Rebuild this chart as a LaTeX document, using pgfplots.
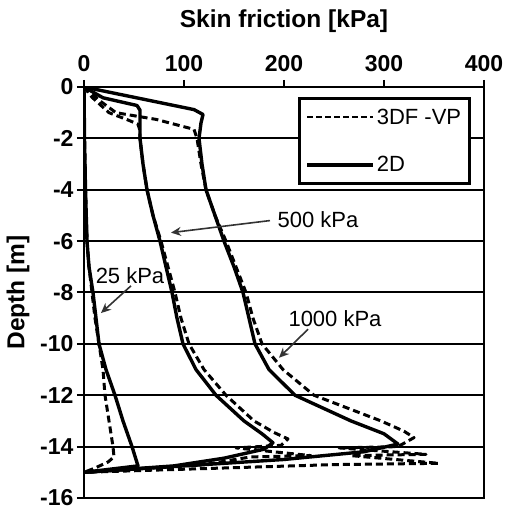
\documentclass[border=0pt]{standalone}
\usepackage{fontspec}
\setmainfont{Liberation Sans}
\usepackage{pgfplots}
\pgfplotsset{compat=1.18}
\usetikzlibrary{arrows.meta}

% Skin friction profiles along the pile (3DF-VP dashed, 2D solid)
\tikzset{
  vpdash/.style={black, line width=3pt, dash pattern=on 7pt off 4pt, line join=round},
  twod/.style={black, line width=3.4pt, line join=round},
  callout/.style={draw=black!80, line width=1.6pt, -{Stealth[length=10pt,width=9pt]}},
}

\begin{document}
\begin{tikzpicture}
\useasboundingbox (-84pt,-14pt) rectangle (421pt,498pt);
\begin{axis}[
  scale only axis, width=400pt, height=411pt,
  xmin=0, xmax=400, ymin=-16, ymax=0,
  xtick={0,100,200,300,400}, ytick={-16,-14,...,0},
  xtick pos=right, xticklabel pos=right, ytick pos=left,
  tick align=outside, major tick length=7pt,
  every tick/.style={black, line width=2pt},
  axis line style={line width=2.8pt},
  ymajorgrids, grid style={black, line width=2pt},
  /pgf/number format/assume math mode=true,
  ticklabel style={font=\fontsize{23}{25}\selectfont\bfseries},
  xticklabel style={yshift=5pt},
  xlabel={Skin friction [kPa]}, ylabel={Depth [m]},
  label style={font=\fontsize{24.5}{27}\selectfont\bfseries},
  xlabel style={yshift=16pt},
  ylabel style={yshift=4pt},
  legend style={at={(0.535,0.975)}, anchor=north west, draw=black, fill=white,
    line width=2.8pt, inner xsep=6pt, inner ysep=8pt, row sep=27pt,
    font=\fontsize{22}{24}\selectfont},
  legend cell align=left,
  legend image code/.code={\draw[#1] (0pt,0pt) -- (66pt,0pt);},
]
\addlegendimage{vpdash, line width=2.2pt, dash pattern=on 6pt off 3pt}
\addlegendentry{3DF -VP}
\addlegendimage{twod}
\addlegendentry{2D}

% 25 kPa
\addplot[vpdash] coordinates {
 (0,0) (0.5,-2) (1.5,-4) (3,-6) (5,-7) (8,-8) (11,-9) (15,-10) (19,-11)
 (21,-12) (25,-13) (29,-14) (30,-14.4) (24,-14.6) (10,-14.85) (0,-15)};
\addplot[twod] coordinates {
 (0,0) (0.5,-2) (1.5,-4) (3,-6) (5,-7) (9,-8) (12,-9) (15,-10) (22,-11)
 (31,-12) (39,-13) (48,-14) (54,-14.75) (0,-15)};

% 500 kPa
\addplot[vpdash] coordinates {
 (0,0) (8,-0.4) (25,-1.0) (45,-1.3) (54,-1.45) (56,-1.7) (56,-2) (59,-3)
 (63,-4) (69,-5) (77,-6) (84,-7) (91,-8) (97,-9) (105,-10) (120,-11)
 (142,-12) (170,-13) (190,-13.45) (204,-13.7) (197,-13.95) (152,-14.05)
 (227,-14.35) (167,-14.4) (120,-14.7) (0,-15)};
\addplot[twod] coordinates {
 (0,0) (19,-0.42) (45,-0.65) (53,-0.72) (56,-0.9) (56,-1.3) (56,-2) (59,-3)
 (63,-4) (69,-5) (76,-6) (82,-7) (88,-8) (93,-9) (99,-10) (112,-11)
 (132,-12) (160,-13) (178,-13.5) (189,-13.85) (180,-14.1) (140,-14.45)
 (90,-14.75) (0,-15)};

% 1000 kPa
\addplot[vpdash] coordinates {
 (0,0) (17,-0.57) (32,-1.0) (72,-1.26) (110,-1.65) (113,-2) (117,-3)
 (122,-4) (131,-5) (142,-6) (152,-7) (162,-8) (169,-9) (178,-10) (199,-11)
 (230,-12) (297,-13) (320,-13.4) (330,-13.65) (314,-14.0) (255,-14.05)
 (342,-14.3) (267,-14.35) (355,-14.65) (250,-14.7) (0,-15)};
\addplot[twod] coordinates {
 (0,0) (50,-0.4) (110,-0.88) (119,-1.07) (117,-1.4) (115,-2) (118,-3)
 (122,-4) (131,-5) (140,-6) (150,-7) (159,-8) (165,-9) (171,-10) (185,-11)
 (211,-12) (267,-13) (300,-13.5) (314,-13.9) (280,-14.2) (200,-14.5)
 (100,-14.75) (0,-15)};

% load labels
\node[font=\fontsize{22}{24}\selectfont] at (axis cs:234,-5.17) {500 kPa};
\draw[callout] (axis cs:186,-5.2) -- (axis cs:87,-5.67);
\node[font=\fontsize{22}{24}\selectfont] at (axis cs:46,-7.33) {25 kPa};
\draw[callout] (axis cs:47,-7.74) -- (axis cs:17,-8.8);
\node[font=\fontsize{22}{24}\selectfont] at (axis cs:251,-9.0) {1000 kPa};
\draw[callout] (axis cs:224,-9.43) -- (axis cs:195,-10.54);
\end{axis}
\end{tikzpicture}
\end{document}
